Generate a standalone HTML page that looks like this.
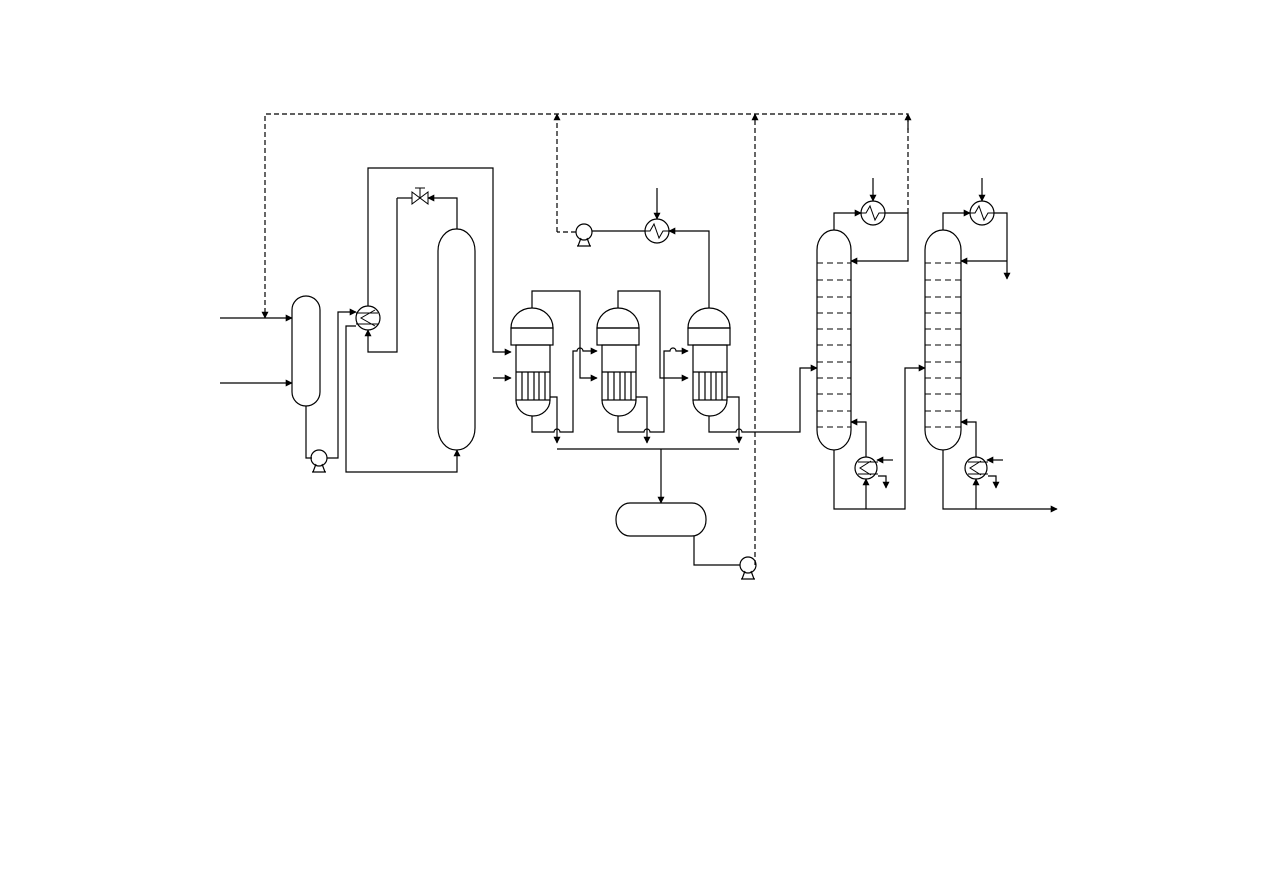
<!DOCTYPE html>
<html><head><meta charset="utf-8"><style>html,body{margin:0;padding:0;background:#fff;}svg{display:block}</style></head>
<body>
<svg width="1263" height="893" viewBox="0 0 1263 893" xmlns="http://www.w3.org/2000/svg">
<defs>
<marker id="a" viewBox="0 0 10 10" refX="9" refY="5" markerWidth="7" markerHeight="7" orient="auto-start-reverse" markerUnits="userSpaceOnUse">
<path d="M0,0 L10,5 L0,10 z" fill="#000"/></marker>
</defs>
<g fill="none" stroke="#000" stroke-width="1.2">
<!-- dashed recycle lines -->
<g stroke-dasharray="5,3">
<path d="M908,213 V114 H265 V318" marker-end="url(#a)"/>
<path d="M557,232 V114" marker-end="url(#a)"/>
<path d="M755,565 V114" marker-end="url(#a)"/>
<path d="M908,130 V114" marker-end="url(#a)"/>
</g>
<!-- feeds -->
<path d="M220,318 H292" marker-end="url(#a)"/>
<path d="M220,383 H292" marker-end="url(#a)"/>
<!-- flash drum -->
<rect x="292" y="296" width="28" height="110" rx="14" ry="14"/>
<path d="M306,406 V458 H312"/>
<circle cx="319" cy="458" r="8"/>
<path d="M313,472 L316,464 M325,472 L322,464 M312,472 H326"/>
<path d="M327,458 H338 V312 H356" marker-end="url(#a)"/>
<!-- exchanger -->
<circle cx="368" cy="318" r="12"/>
<path d="M375,310 L361,318 L375,326 M356,313 H378 M356,324 H378" stroke-width="1"/>
<path d="M356,326 H346 V472 H457 V450" marker-end="url(#a)"/>
<path d="M368,306 V168 H493 V352 H511" marker-end="url(#a)"/>
<path d="M397,198 V352 H368 V330" marker-end="url(#a)"/>
<path d="M397,198 H412"/>
<path d="M412,192 L428,204 L428,192 L412,204 Z M420,198 V188 M415,188 H425" stroke-width="1"/>
<path d="M457,229 V198 H428" marker-end="url(#a)"/>
<!-- column 2 -->
<rect x="438" y="229" width="37" height="221" rx="18" ry="22"/>
<!-- reactors -->
<g id="r">
<path d="M511,328 A21,20 0 0 1 553,328 Z"/>
<rect x="511" y="328" width="42" height="17"/>
<rect x="516" y="345" width="34" height="55"/>
<path d="M516,372 H550 M522,372 V400 M528,372 V400 M534,372 V400 M539,372 V400 M545,372 V400"/>
<path d="M516,400 A17,16 0 0 0 550,400"/>
</g>
<use href="#r" x="86"/>
<use href="#r" x="177"/>
<path d="M493,378 H511" marker-end="url(#a)"/>
<path d="M532,308 V291 H580 V378 H597" marker-end="url(#a)"/>
<path d="M618,308 V291 H660 V378 H688" marker-end="url(#a)"/>
<path d="M532,416 V432 H554 a3,3 0 0 1 6,0 H573 V351 H577 a3,3 0 0 1 6,0 H597" marker-end="url(#a)"/>
<path d="M618,416 V432 H644 a3,3 0 0 1 6,0 H664 V351 H670 a3,3 0 0 1 6,0 H688" marker-end="url(#a)"/>
<path d="M709,416 V432 H736 a3,3 0 0 1 6,0 H800 V368 H817" marker-end="url(#a)"/>
<path d="M550,397 H557 V443" marker-end="url(#a)"/>
<path d="M636,397 H647 V443" marker-end="url(#a)"/>
<path d="M727,397 H739 V443" marker-end="url(#a)"/>
<path d="M557,449 H739"/>
<path d="M661,449 V503" marker-end="url(#a)"/>
<!-- tank -->
<rect x="616" y="503" width="90" height="33" rx="14" ry="16"/>
<path d="M694,536 V565 H740"/>
<circle cx="748" cy="565" r="8"/>
<path d="M742,579 L745,571 M754,579 L751,571 M741,579 H755"/>
<!-- condenser top -->
<path d="M709,308 V231 H669" marker-end="url(#a)"/>
<circle cx="657" cy="231" r="12"/>
<path d="M645,231 H650 L654,224 L659,238 L663,231 H669" stroke-width="1"/>
<path d="M657,188 V219" marker-end="url(#a)"/>
<path d="M645,231 H592"/>
<circle cx="584" cy="232" r="8"/>
<path d="M578,246 L581,238 M590,246 L587,238 M577,246 H591"/>
<path d="M576,232 H557" stroke-dasharray="5,3"/>
<!-- column 3 -->
<rect x="817" y="230" width="34" height="220" rx="17" ry="20"/>
<g stroke-dasharray="6,4" stroke-width="1">
<path d="M817,263 H851 M817,280 H851 M817,297 H851 M817,313 H851 M817,329 H851 M817,345 H851 M817,362 H851 M817,378 H851 M817,394 H851 M817,411 H851 M817,427 H851"/>
</g>
<path d="M834,230 V213 H861" marker-end="url(#a)"/>
<circle cx="873" cy="213" r="12"/>
<path d="M861,213 H866 L870,206 L875,220 L879,213 H885" stroke-width="1"/>
<path d="M873,178 V201" marker-end="url(#a)"/>
<path d="M885,213 H908 V261 H851" marker-end="url(#a)"/>
<circle cx="866" cy="468" r="11"/>
<path d="M871,461 L860,468 L871,475 M858,462 H878 M858,474 H878" stroke-width="1"/>
<path d="M866,457 V422 H851" marker-end="url(#a)"/>
<path d="M893,460 H877" marker-end="url(#a)"/>
<path d="M878,476 H886 V488" marker-end="url(#a)"/>
<path d="M834,450 V509 H905 V368 H925" marker-end="url(#a)"/>
<path d="M866,509 V479" marker-end="url(#a)"/>
<!-- column 4 -->
<rect x="925" y="230" width="36" height="220" rx="18" ry="20"/>
<g stroke-dasharray="6,4" stroke-width="1">
<path d="M925,263 H961 M925,280 H961 M925,297 H961 M925,313 H961 M925,329 H961 M925,345 H961 M925,362 H961 M925,378 H961 M925,394 H961 M925,411 H961 M925,427 H961"/>
</g>
<path d="M943,230 V213 H970" marker-end="url(#a)"/>
<circle cx="982" cy="213" r="12"/>
<path d="M970,213 H975 L979,206 L984,220 L988,213 H994" stroke-width="1"/>
<path d="M982,178 V201" marker-end="url(#a)"/>
<path d="M994,213 H1007 V279" marker-end="url(#a)"/>
<path d="M1007,261 H961" marker-end="url(#a)"/>
<circle cx="976" cy="468" r="11"/>
<path d="M981,461 L970,468 L981,475 M968,462 H988 M968,474 H988" stroke-width="1"/>
<path d="M976,457 V422 H961" marker-end="url(#a)"/>
<path d="M1003,460 H987" marker-end="url(#a)"/>
<path d="M988,476 H996 V488" marker-end="url(#a)"/>
<path d="M943,450 V509 H1057" marker-end="url(#a)"/>
<path d="M976,509 V479" marker-end="url(#a)"/>
</g>
</svg>
</body></html>
